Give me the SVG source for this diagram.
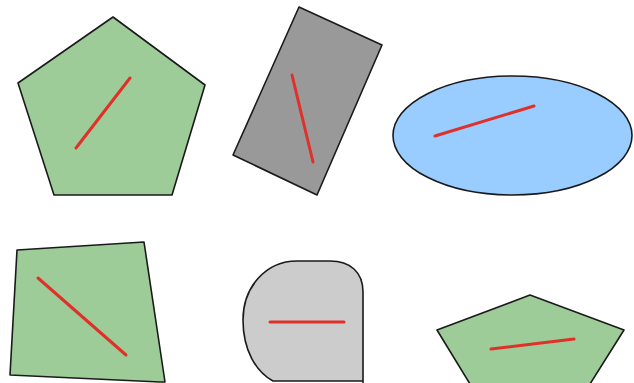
<svg xmlns="http://www.w3.org/2000/svg" width="634" height="383" viewBox="0 0 634 383">
<style>
.s{stroke:#1a1a1a;stroke-width:1.6;stroke-linejoin:round}
.g{fill:#9dcc98}
.r{stroke:#e0302a;stroke-width:3;stroke-linecap:round;fill:none}
</style>
<rect width="634" height="383" fill="#ffffff"/>
<g id="pentagon1">
<polygon class="s g" points="113,17 205,85 172,195 54,195 18,83"/>
<line class="r" x1="76" y1="148" x2="130" y2="78"/>
</g>
<g id="rectangle">
<polygon class="s" fill="#999999" points="299,7 382,45 317,195 233,155"/>
<line class="r" x1="292" y1="75" x2="313" y2="162"/>
</g>
<g id="ellipse">
<ellipse class="s" fill="#99ccff" cx="512.5" cy="135.5" rx="119.5" ry="59.5"/>
<line class="r" x1="435" y1="136" x2="534" y2="106"/>
</g>
<g id="quad">
<polygon class="s g" points="17,250 144,242 165,382 160,382 10,375"/>
<line class="r" x1="38" y1="278" x2="126" y2="355"/>
</g>
<g id="rounded">
<path class="s" fill="#cccccc" d="M363,384 L363,292 C363,272 350,261 330,261 L297,261 C265,261 243,288 243,320 C243,350 256,372 273,381 L363,381"/>
<line class="r" x1="270" y1="322" x2="344" y2="322"/>
</g>
<g id="pentagon2">
<polygon class="s g" points="530,295 624,330 590,384 470,384 437,330"/>
<line class="r" x1="491" y1="349" x2="574" y2="339"/>
</g>
</svg>
